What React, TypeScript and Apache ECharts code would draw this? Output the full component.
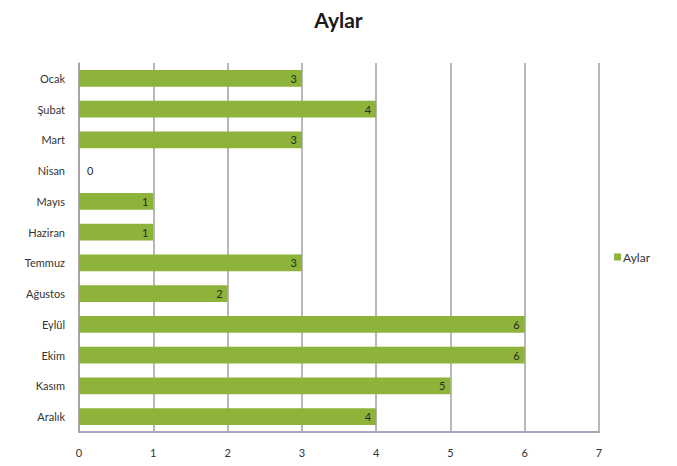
import React, { useEffect, useRef } from "react";
import * as echarts from "echarts";

const months = ["Ocak", "Şubat", "Mart", "Nisan", "Mayıs", "Haziran", "Temmuz", "Ağustos", "Eylül", "Ekim", "Kasım", "Aralık"];
const values = [3, 4, 3, 0, 1, 1, 3, 2, 6, 6, 5, 4];
const seriesName = "Aylar";

const FONT = "Lato, 'Open Sans', sans-serif";

export default function App() {
  const ref = useRef<HTMLDivElement>(null);

  useEffect(() => {
    if (!ref.current) return;
    const chart = echarts.init(ref.current, null, { renderer: "svg" });
    chart.setOption({
      animation: false,
      backgroundColor: "#ffffff",
      textStyle: { fontFamily: FONT },
      title: {
        text: seriesName,
        left: "center",
        top: -4,
        textStyle: { fontSize: 21, fontWeight: "bold", color: "#1a1a1a", fontFamily: FONT },
      },
      legend: {
        orient: "vertical",
        right: 14,
        top: 238,
        itemWidth: 7,
        itemHeight: 7,
        itemGap: 4,
        icon: "rect",
        textStyle: { fontSize: 12, color: "#333", fontFamily: FONT, padding: [0, 0, 0, -3] },
        data: [seriesName],
      },
      grid: { left: 71, right: 70, top: 55, bottom: 14 },
      xAxis: {
        type: "value",
        min: 0,
        max: 7,
        interval: 1,
        axisLine: { show: true, lineStyle: { color: "#a9a6bd", width: 2 } },
        axisTick: { show: false },
        axisLabel: { fontSize: 11, color: "#333", margin: 15, fontFamily: FONT },
        splitLine: { show: true, lineStyle: { color: "#a0a0a0", width: 1.5 } },
      },
      yAxis: {
        type: "category",
        inverse: true,
        data: months,
        axisLine: { show: true, lineStyle: { color: "#a0a0a0", width: 1.5 } },
        axisTick: { show: false },
        axisLabel: { fontSize: 11, color: "#333", margin: 14, fontFamily: FONT },
      },
      series: [
        {
          name: seriesName,
          type: "bar",
          barWidth: "55%",
          itemStyle: { color: "#8db33a" },
          data: values.map((v) => ({
            value: v,
            label: v === 0 ? { position: "right", distance: 8 } : undefined,
          })),
          label: {
            show: true,
            position: "insideRight",
            distance: 5,
            fontSize: 11,
            color: "#2a2a2a",
            fontFamily: FONT,
          },
        },
      ],
    });
    return () => chart.dispose();
  }, []);

  return <div ref={ref} style={{ width: 661, height: 450 }} />;
}
